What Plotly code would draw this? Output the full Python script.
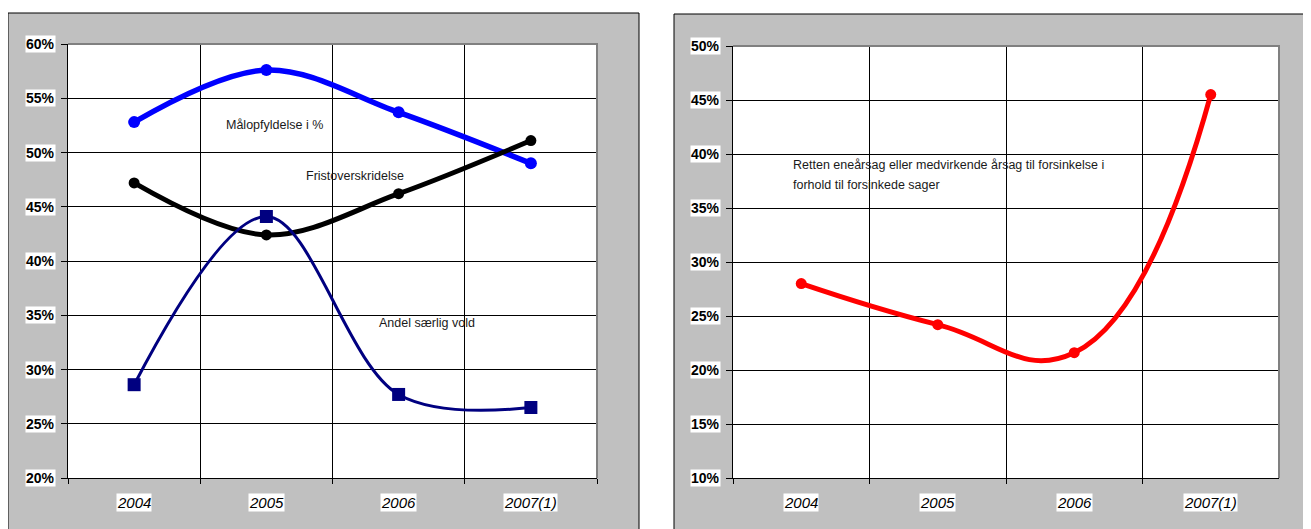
import plotly.graph_objects as go

# ---------------- data ----------------
years = ["2004", "2005", "2006", "2007(1)"]
malopfyldelse = [52.8, 57.6, 53.7, 49.0]
fristoverskridelse = [47.2, 42.4, 46.2, 51.1]
andel_saerlig_vold = [28.6, 44.1, 27.7, 26.5]
retten_aarsag = [28.0, 24.2, 21.6, 45.5]

left_yticks = [20, 25, 30, 35, 40, 45, 50, 55, 60]
right_yticks = [10, 15, 20, 25, 30, 35, 40, 45, 50]

# page body has an 8px margin; figure fills the rest of the window
OX, OY = 8, 8
W, H = 1311 - OX, 529 - OY
FONT = "Liberation Sans, Arial, sans-serif"
GRAY = "#C0C0C0"


def px(x):
    return (x - OX) / W


def py(y):
    return 1 - (y - OY) / H


fig = go.Figure()

fig.add_trace(go.Scatter(x=years, y=malopfyldelse, mode="lines+markers",
                         line=dict(color="#0000FF", width=5.5, shape="spline", smoothing=1),
                         marker=dict(color="#0000FF", size=12, symbol="circle"),
                         xaxis="x", yaxis="y", showlegend=False))
fig.add_trace(go.Scatter(x=years, y=fristoverskridelse, mode="lines+markers",
                         line=dict(color="#000000", width=5, shape="spline", smoothing=1),
                         marker=dict(color="#000000", size=11, symbol="circle"),
                         xaxis="x", yaxis="y", showlegend=False))
fig.add_trace(go.Scatter(x=years, y=andel_saerlig_vold, mode="lines+markers",
                         line=dict(color="#000080", width=3, shape="spline", smoothing=1),
                         marker=dict(color="#000080", size=13, symbol="square"),
                         xaxis="x", yaxis="y", showlegend=False))
fig.add_trace(go.Scatter(x=years, y=retten_aarsag, mode="lines+markers",
                         line=dict(color="#FF0000", width=5, shape="spline", smoothing=1.3),
                         marker=dict(color="#FF0000", size=11, symbol="circle"),
                         xaxis="x2", yaxis="y2", showlegend=False))

common_x = dict(type="category", categoryorder="array", categoryarray=years,
                range=[-0.5, 3.5], tickson="boundaries", showgrid=True,
                gridcolor="#000000", gridwidth=1, showline=True, linecolor="#000000",
                linewidth=1, ticks="outside", ticklen=5, tickcolor="#000000",
                showticklabels=False, zeroline=False, fixedrange=True)
common_y = dict(dtick=5, showgrid=True, gridcolor="#000000", gridwidth=1,
                showline=True, linecolor="#000000", linewidth=1, ticks="outside",
                ticklen=6, tickcolor="#000000", showticklabels=False,
                zeroline=False, fixedrange=True)

fig.update_layout(
    width=W, height=H, margin=dict(l=0, r=0, t=0, b=0),
    paper_bgcolor="white", plot_bgcolor="white",
    xaxis=dict(domain=[px(68), px(597)], anchor="y", **common_x),
    yaxis=dict(domain=[py(478), py(44)], anchor="x", range=[20, 60],
               tick0=20, **common_y),
    xaxis2=dict(domain=[px(733), px(1279)], anchor="y2", **common_x),
    yaxis2=dict(domain=[py(478), py(46)], anchor="x2", range=[10, 50],
                tick0=10, **common_y),
    font=dict(family=FONT, color="#000000"),
)

shapes = [
    # gray chart-area panels
    dict(type="rect", xref="paper", yref="paper", x0=px(8), x1=px(639),
         y0=-0.2, y1=py(13), fillcolor=GRAY, line=dict(color="#000000", width=1),
         layer="below"),
    dict(type="rect", xref="paper", yref="paper", x0=px(674), x1=1.2,
         y0=-0.2, y1=py(14), fillcolor=GRAY, line=dict(color="#000000", width=1),
         layer="below"),
]
for xr, yr in (("x", "y"), ("x2", "y2")):
    shapes.append(dict(type="rect", xref=f"{xr} domain", yref=f"{yr} domain",
                       x0=0, x1=1, y0=0, y1=1, fillcolor="white",
                       line=dict(width=0), layer="below"))
    shapes.append(dict(type="path", xref=f"{xr} domain", yref=f"{yr} domain",
                       path="M 0 1 L 1 1 L 1 0", line=dict(color="#808080", width=2),
                       layer="above"))
fig.update_layout(shapes=shapes)

ann = []
# axis tick labels with white boxes (Excel style)
for xr, yr, ticks in (("x", "y", left_yticks), ("x2", "y2", right_yticks)):
    for v in ticks:
        ann.append(dict(xref=f"{xr} domain", yref=yr, x=0, y=v, xanchor="right",
                        yanchor="middle", xshift=-12, text=f"<b>{v}%</b>", showarrow=False,
                        bgcolor="white", borderpad=0,
                        font=dict(family=FONT, size=14, color="#000000")))
    for i, c in enumerate(years):
        ann.append(dict(xref=xr, yref=f"{yr} domain", x=i, y=0, xanchor="center",
                        yanchor="top", yshift=-15, text=f"<i>{c}</i>", showarrow=False,
                        bgcolor="white", borderpad=0,
                        font=dict(family=FONT, size=15, color="#000000")))

# series labels
txt_font = dict(family=FONT, size=12.5, color="#1a1a1a")
ann += [
    dict(xref="x", yref="y", x=0.68, y=52.5, text="Målopfyldelse i %",
         xanchor="left", yanchor="middle", showarrow=False, font=txt_font),
    dict(xref="x", yref="y", x=1.285, y=47.8, text="Fristoverskridelse",
         xanchor="left", yanchor="middle", showarrow=False, font=txt_font),
    dict(xref="x", yref="y", x=1.84, y=34.3, text="Andel særlig vold",
         xanchor="left", yanchor="middle", showarrow=False, font=txt_font),
    dict(xref="x2", yref="y2", x=-0.075, y=38.98,
         text="Retten eneårsag eller medvirkende årsag til forsinkelse i",
         xanchor="left", yanchor="middle", showarrow=False, font=txt_font),
    dict(xref="x2", yref="y2", x=-0.075, y=37.13,
         text="forhold til forsinkede sager",
         xanchor="left", yanchor="middle", showarrow=False, font=txt_font),
]
fig.update_layout(annotations=ann)

fig.write_html("out.html")
